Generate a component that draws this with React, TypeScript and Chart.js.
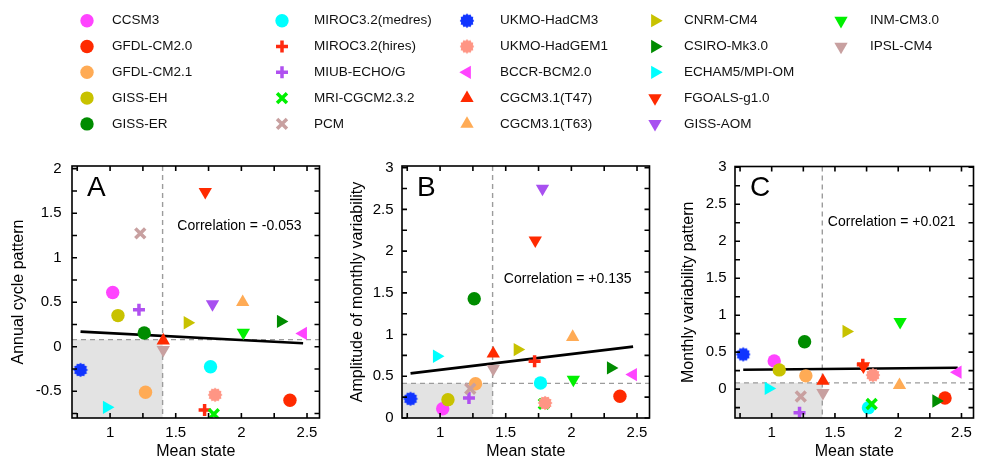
import React, { useEffect, useRef } from 'react';
import { Chart, registerables } from 'chart.js';
import { drawPoint } from 'chart.js/helpers';

Chart.register(...registerables);

// ---------------- DATA ----------------
const MODELS = [
  'CCSM3', 'GFDL-CM2.0', 'GFDL-CM2.1', 'GISS-EH', 'GISS-ER',
  'MIROC3.2(medres)', 'MIROC3.2(hires)', 'MIUB-ECHO/G', 'MRI-CGCM2.3.2', 'PCM',
  'UKMO-HadCM3', 'UKMO-HadGEM1', 'BCCR-BCM2.0', 'CGCM3.1(T47)', 'CGCM3.1(T63)',
  'CNRM-CM4', 'CSIRO-Mk3.0', 'ECHAM5/MPI-OM', 'FGOALS-g1.0', 'GISS-AOM',
  'INM-CM3.0', 'IPSL-CM4',
];
const COLORS = [
  '#ff44ff', '#ff2a00', '#ffab55', '#c8c200', '#008c00',
  '#00ffff', '#ff2a10', '#b050f0', '#00f000', '#c8a0a0',
  '#1034ff', '#ff9584', '#ff44ff', '#ff2a00', '#ffab55',
  '#c8c200', '#008c00', '#00ffff', '#ff2a00', '#a850f0',
  '#00f000', '#c8a0a0',
];
const MARKERS = [
  'circle', 'circle', 'circle', 'circle', 'circle',
  'circle', 'plus', 'plus', 'x', 'x',
  'gear', 'gear', 'left', 'up', 'up',
  'right', 'right', 'right', 'down', 'down',
  'down', 'down',
];
const MEAN_STATE = [
  1.02, 2.37, 1.27, 1.06, 1.26,
  1.765, 1.72, 1.22, 1.79, 1.23,
  0.775, 1.80, 2.47, 1.405, 2.01,
  1.59, 2.30, 0.975, 1.725, 1.78,
  2.015, 1.405,
];
const ANNUAL_CYCLE = [
  0.61, -0.60, -0.51, 0.35, 0.155,
  -0.225, -0.71, 0.415, -0.757, 1.273,
  -0.26, -0.54, 0.15, 0.07, 0.50,
  0.27, 0.285, -0.68, 1.74, 0.48,
  0.16, -0.035,
];
const MONTHLY_AMPLITUDE = [
  0.11, 0.26, 0.41, 0.22, 1.43,
  0.42, 0.68, 0.24, 0.17, 0.35,
  0.23, 0.18, 0.52, 0.77, 0.97,
  0.82, 0.60, 0.74, 2.13, 2.75,
  0.46, 0.59,
];
const MONTHLY_PATTERN: (number | null)[] = [
  0.38, -0.12, 0.18, 0.26, 0.64,
  -0.25, 0.33, -0.32, -0.20, -0.10,
  0.47, 0.19, 0.23, 0.11, 0.055,
  0.78, -0.16, 0.01, 0.31, null,
  0.91, -0.05,
];

const REG_X = [0.775, 2.47];
const REG_A = [0.17, 0.04];
const REG_B = [0.535, 0.855];
const REG_C = [0.262, 0.29];

const THRESH_X = 1.4;
const THRESH_Y = [0.08, 0.415, 0.085];

const X_TICKS = [0.75, 1, 1.25, 1.5, 1.75, 2, 2.25, 2.5];
const X_TICK_LABELS = ['', '1', '', '1.5', '', '2', '', '2.5'];
const Y_TICKS_A = [-0.75, -0.5, -0.25, 0, 0.25, 0.5, 0.75, 1, 1.25, 1.5, 1.75, 2];
const Y_TICK_LABELS_A = ['', '-0.5', '', '0', '', '0.5', '', '1', '', '1.5', '', '2'];
const Y_TICKS_B = [0, 0.25, 0.5, 0.75, 1, 1.25, 1.5, 1.75, 2, 2.25, 2.5, 2.75, 3];
const Y_TICK_LABELS_B = ['0', '', '0.5', '', '1', '', '1.5', '', '2', '', '2.5', '', '3'];
const Y_TICKS_C = [-0.25, 0, 0.25, 0.5, 0.75, 1, 1.25, 1.5, 1.75, 2, 2.25, 2.5, 2.75, 3];
const Y_TICK_LABELS_C = ['', '0', '', '0.5', '', '1', '', '1.5', '', '2', '', '2.5', '', '3'];

const CORRELATIONS = ['Correlation = -0.053', 'Correlation = +0.135', 'Correlation = +0.021'];
const CORR_Y = [1.36, 1.66, 2.26];
const PANEL_LETTERS = ['A', 'B', 'C'];
const Y_TITLES = ['Annual cycle pattern', 'Amplitude of monthly variability', 'Monthly variability pattern'];
const X_TITLE = 'Mean state';

// ---------------- STYLE ----------------
const FONT = "'Liberation Sans', Arial, Helvetica, sans-serif";
Chart.defaults.font.family = FONT;
Chart.defaults.color = '#000';

const gearCache: Record<string, HTMLCanvasElement> = {};
function gear(color: string): HTMLCanvasElement {
  if (gearCache[color]) return gearCache[color];
  const c = document.createElement('canvas');
  c.width = 16; c.height = 16;
  const g = c.getContext('2d')!;
  g.fillStyle = color;
  g.beginPath();
  const n = 24;
  for (let k = 0; k < n; k++) {
    const r = k % 2 === 0 ? 7.3 : 6.0;
    const a = (k / n) * Math.PI * 2;
    const px = 8 + Math.cos(a) * r, py = 8 + Math.sin(a) * r;
    if (k === 0) g.moveTo(px, py); else g.lineTo(px, py);
  }
  g.closePath();
  g.fill();
  gearCache[color] = c;
  return c;
}

function markerOpts(i: number) {
  const m = MARKERS[i];
  const col = COLORS[i];
  switch (m) {
    case 'circle': return { pointStyle: 'circle' as any, radius: 6.7, rotation: 0, borderWidth: 0 };
    case 'plus': return { pointStyle: 'cross' as any, radius: 6, rotation: 0, borderWidth: 3.5 };
    case 'x': return { pointStyle: 'crossRot' as any, radius: 7, rotation: 0, borderWidth: 3.5 };
    case 'gear': return { pointStyle: gear(col) as any, radius: 7, rotation: 0, borderWidth: 0 };
    case 'up': return { pointStyle: 'triangle' as any, radius: 7.7, rotation: 0, borderWidth: 0 };
    case 'right': return { pointStyle: 'triangle' as any, radius: 7.7, rotation: 90, borderWidth: 0 };
    case 'down': return { pointStyle: 'triangle' as any, radius: 7.7, rotation: 180, borderWidth: 0 };
    case 'left': return { pointStyle: 'triangle' as any, radius: 7.7, rotation: 270, borderWidth: 0 };
  }
  return { pointStyle: 'circle' as any, radius: 6, rotation: 0, borderWidth: 0 };
}

// ---------------- PLUGINS ----------------
const quadrantPlugin = {
  id: 'quadrant',
  beforeDatasetsDraw(chart: any, _args: any, opts: any) {
    const { ctx, chartArea: a, scales } = chart;
    const px = scales.x.getPixelForValue(opts.x);
    const py = scales.y.getPixelForValue(opts.y);
    ctx.save();
    ctx.fillStyle = '#e3e3e3';
    ctx.fillRect(a.left, py, px - a.left, a.bottom - py);
    ctx.strokeStyle = '#9c9c9c';
    ctx.lineWidth = 1.4;
    ctx.setLineDash([5, 4]);
    ctx.beginPath();
    ctx.moveTo(px, a.top); ctx.lineTo(px, a.bottom);
    ctx.moveTo(a.left, py); ctx.lineTo(a.right, py);
    ctx.stroke();
    ctx.restore();
  },
};

const framePlugin = {
  id: 'frame',
  afterDatasetsDraw(chart: any) {
    const { ctx, chartArea: a, scales } = chart;
    const L = 5;
    ctx.save();
    ctx.strokeStyle = '#000';
    ctx.lineWidth = 1.6;
    ctx.setLineDash([]);
    ctx.strokeRect(a.left, a.top, a.right - a.left, a.bottom - a.top);
    ctx.beginPath();
    scales.x.ticks.forEach((t: any) => {
      const p = scales.x.getPixelForValue(t.value);
      ctx.moveTo(p, a.bottom); ctx.lineTo(p, a.bottom - L);
      ctx.moveTo(p, a.top); ctx.lineTo(p, a.top + L);
    });
    scales.y.ticks.forEach((t: any) => {
      const p = scales.y.getPixelForValue(t.value);
      ctx.moveTo(a.left, p); ctx.lineTo(a.left + L, p);
      ctx.moveTo(a.right, p); ctx.lineTo(a.right - L, p);
    });
    ctx.stroke();
    ctx.restore();
  },
};

const annotPlugin = {
  id: 'annot',
  afterDraw(chart: any, _args: any, opts: any) {
    const { ctx, chartArea: a, scales } = chart;
    ctx.save();
    ctx.fillStyle = '#000';
    ctx.font = `28px ${FONT}`;
    ctx.textAlign = 'left';
    ctx.textBaseline = 'middle';
    ctx.fillText(opts.letter, a.left + 15, a.top + 22);
    ctx.font = `14px ${FONT}`;
    ctx.textAlign = 'right';
    ctx.fillText(opts.corr, a.right - 18, scales.y.getPixelForValue(opts.corrY));
    ctx.restore();
  },
};

const legendPlugin = {
  id: 'modelLegend',
  afterDraw(chart: any) {
    const ctx = chart.ctx;
    const markX = [87, 282, 467, 655, 841];
    const textX = [112, 314, 500, 684, 870];
    MODELS.forEach((name, i) => {
      const col = Math.floor(i / 5);
      const row = i % 5;
      const y = 20.7 + row * 25.8;
      const m = markerOpts(i);
      ctx.save();
      ctx.fillStyle = COLORS[i];
      ctx.strokeStyle = COLORS[i];
      ctx.lineWidth = m.borderWidth;
      drawPoint(ctx, { pointStyle: m.pointStyle, rotation: m.rotation, radius: m.radius, borderWidth: m.borderWidth } as any, markX[col], y);
      ctx.restore();
      ctx.save();
      ctx.fillStyle = '#111';
      ctx.font = `13.5px ${FONT}`;
      ctx.textAlign = 'left';
      ctx.textBaseline = 'middle';
      ctx.fillText(name, textX[col], y);
      ctx.restore();
    });
  },
};

// ---------------- PANELS ----------------
interface PanelSpec {
  idx: number;
  values: (number | null)[];
  reg: number[];
  yMin: number; yMax: number;
  yTicks: number[]; yLabels: string[];
  yAxisWidth: number; padRight: number; padTop: number;
  yTitlePad: number; yLabelPad: number;
}

function panelConfig(p: PanelSpec): any {
  const datasets: any[] = MODELS.map((name, i) => {
    const m = markerOpts(i);
    const v = p.values[i];
    return {
      label: name,
      data: v === null || v === undefined ? [] : [{ x: MEAN_STATE[i], y: v }],
      pointStyle: m.pointStyle,
      pointRotation: m.rotation,
      pointRadius: m.radius,
      pointHoverRadius: m.radius,
      pointBackgroundColor: COLORS[i],
      pointBorderColor: COLORS[i],
      pointBorderWidth: m.borderWidth,
      showLine: false,
      order: 100 - i,
      clip: 0,
    };
  });
  datasets.push({
    label: 'fit',
    data: REG_X.map((x, k) => ({ x, y: p.reg[k] })),
    showLine: true,
    borderColor: '#000',
    borderWidth: 2.6,
    pointRadius: 0,
    order: 1000,
    clip: 0,
  });
  return {
    type: 'scatter',
    data: { datasets },
    plugins: [quadrantPlugin, framePlugin, annotPlugin],
    options: {
      animation: false,
      responsive: false,
      devicePixelRatio: 1,
      events: [],
      layout: { padding: { left: 0, right: p.padRight, top: p.padTop, bottom: 0 } },
      plugins: {
        legend: { display: false },
        tooltip: { enabled: false },
        quadrant: { x: THRESH_X, y: THRESH_Y[p.idx] },
        annot: { letter: PANEL_LETTERS[p.idx], corr: CORRELATIONS[p.idx], corrY: CORR_Y[p.idx] },
      },
      scales: {
        x: {
          type: 'linear',
          position: 'bottom',
          min: 0.71,
          max: 2.595,
          grid: { display: false, drawTicks: false },
          border: { display: false },
          afterBuildTicks: (s: any) => { s.ticks = X_TICKS.map((v) => ({ value: v })); },
          afterFit: (s: any) => { s.height = 42; s.paddingLeft = 0; s.paddingRight = 0; },
          ticks: {
            autoSkip: false,
            maxRotation: 0,
            padding: 6,
            font: { size: 15, lineHeight: 1.2 },
            color: '#000',
            callback: (_v: any, i: number) => X_TICK_LABELS[i],
          },
          title: {
            display: true,
            text: X_TITLE,
            font: { size: 16, lineHeight: 1 },
            padding: { top: 0, bottom: 0.5 },
            color: '#000',
          },
        },
        y: {
          type: 'linear',
          position: 'left',
          min: p.yMin,
          max: p.yMax,
          grid: { display: false, drawTicks: false },
          border: { display: false },
          afterBuildTicks: (s: any) => { s.ticks = p.yTicks.map((v) => ({ value: v })); },
          afterFit: (s: any) => { s.width = p.yAxisWidth; s.paddingTop = 0; s.paddingBottom = 0; },
          ticks: {
            autoSkip: false,
            padding: p.yLabelPad,
            font: { size: 15, lineHeight: 1.2 },
            color: '#000',
            callback: (_v: any, i: number) => p.yLabels[i],
          },
          title: {
            display: true,
            text: Y_TITLES[p.idx],
            font: { size: 16, lineHeight: 1 },
            padding: { top: p.yTitlePad, bottom: 0 },
            color: '#000',
          },
        },
      },
    },
  };
}

const PANELS: PanelSpec[] = [
  { idx: 0, values: ANNUAL_CYCLE, reg: REG_A, yMin: -0.8, yMax: 2.03, yTicks: Y_TICKS_A, yLabels: Y_TICK_LABELS_A,
    yAxisWidth: 72, padRight: 7, padTop: 26, yTitlePad: 11, yLabelPad: 10.5 },
  { idx: 1, values: MONTHLY_AMPLITUDE, reg: REG_B, yMin: 0, yMax: 3.02, yTicks: Y_TICKS_B, yLabels: Y_TICK_LABELS_B,
    yAxisWidth: 72, padRight: 6, padTop: 26, yTitlePad: 20, yLabelPad: 8.5 },
  { idx: 2, values: MONTHLY_PATTERN, reg: REG_C, yMin: -0.39, yMax: 3.01, yTicks: Y_TICKS_C, yLabels: Y_TICK_LABELS_C,
    yAxisWidth: 75, padRight: 1, padTop: 26.5, yTitlePad: 21, yLabelPad: 8.5 },
];

const PANEL_BOXES = [
  { left: 0, top: 140, width: 330, height: 320 },
  { left: 330, top: 140, width: 330, height: 320 },
  { left: 660, top: 140, width: 324, height: 320 },
];

function legendConfig(): any {
  return {
    type: 'scatter',
    data: { datasets: [] },
    plugins: [legendPlugin],
    options: {
      animation: false,
      responsive: false,
      devicePixelRatio: 1,
      events: [],
      plugins: { legend: { display: false }, tooltip: { enabled: false } },
      scales: { x: { display: false }, y: { display: false } },
    },
  };
}

function ChartCanvas(props: { left: number; top: number; width: number; height: number; build: () => any }) {
  const ref = useRef<HTMLCanvasElement>(null);
  useEffect(() => {
    const chart = new Chart(ref.current as HTMLCanvasElement, props.build());
    return () => chart.destroy();
  }, []);
  return (
    <canvas
      ref={ref}
      width={props.width}
      height={props.height}
      style={{ position: 'absolute', left: props.left, top: props.top, width: props.width, height: props.height }}
    />
  );
}

export default function App() {
  return (
    <div style={{ position: 'fixed', left: 0, top: 0, width: 984, height: 460, overflow: 'hidden', background: '#fff' }}>
      <ChartCanvas left={0} top={0} width={984} height={140} build={legendConfig} />
      {PANELS.map((p, i) => (
        <ChartCanvas key={i} {...PANEL_BOXES[i]} build={() => panelConfig(p)} />
      ))}
    </div>
  );
}
